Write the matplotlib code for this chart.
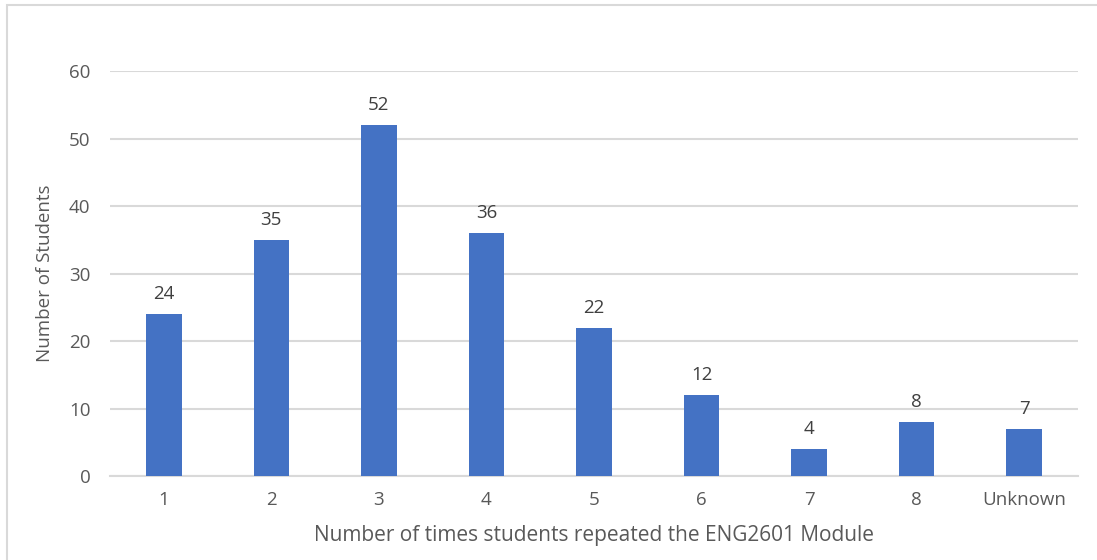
import matplotlib.pyplot as plt
from matplotlib.patches import Rectangle

# repeat counts for the ENG2601 module
categories = ["1", "2", "3", "4", "5", "6", "7", "8", "Unknown"]
students = [24, 35, 52, 36, 22, 12, 4, 8, 7]
y_ticks = [0, 10, 20, 30, 40, 50, 60]

plt.rcParams['font.family'] = ['Open Sans', 'DejaVu Sans']
text_grey = '#595959'

fig = plt.figure(figsize=(10.97, 5.6), dpi=100)
ax = fig.add_axes([0.1003, 0.15, 0.8824, 0.723])

# outer chart frame (runs off the right and bottom edge)
fig.patches.append(Rectangle((7 / 1097, -0.05), 1.2, 1 - 5 / 560 + 0.05,
                             transform=fig.transFigure, fill=False,
                             edgecolor='#d9d9d9', linewidth=1.5))

x = range(len(categories))
bars = ax.bar(x, students, width=0.33, color='#4472c4', zorder=3)
for b, v in zip(bars, students):
    ax.text(b.get_x() + b.get_width() / 2, v + 1.6, str(v),
            ha='center', va='bottom', fontsize=13.5, color='#404040')

ax.set_xlim(-0.5, len(categories) - 0.5)
ax.set_ylim(0, 60)
ax.set_yticks(y_ticks)
ax.set_xticks(list(x))
ax.set_xticklabels(categories)
ax.tick_params(axis='both', length=0, labelsize=13.5, colors=text_grey)
ax.tick_params(axis='y', pad=14)
ax.tick_params(axis='x', pad=11)
ax.yaxis.grid(True, color='#d9d9d9', linewidth=1.5, zorder=0)
for s in ['top', 'right', 'left']:
    ax.spines[s].set_visible(False)
ax.spines['bottom'].set_color('#d9d9d9')
ax.spines['bottom'].set_linewidth(1.5)

ax.set_xlabel("Number of times students repeated the ENG2601 Module",
              fontsize=15, color=text_grey, labelpad=11)
ax.set_ylabel("Number of Students", fontsize=13.5, color=text_grey, labelpad=11)

fig.savefig("out.png", dpi=100)
